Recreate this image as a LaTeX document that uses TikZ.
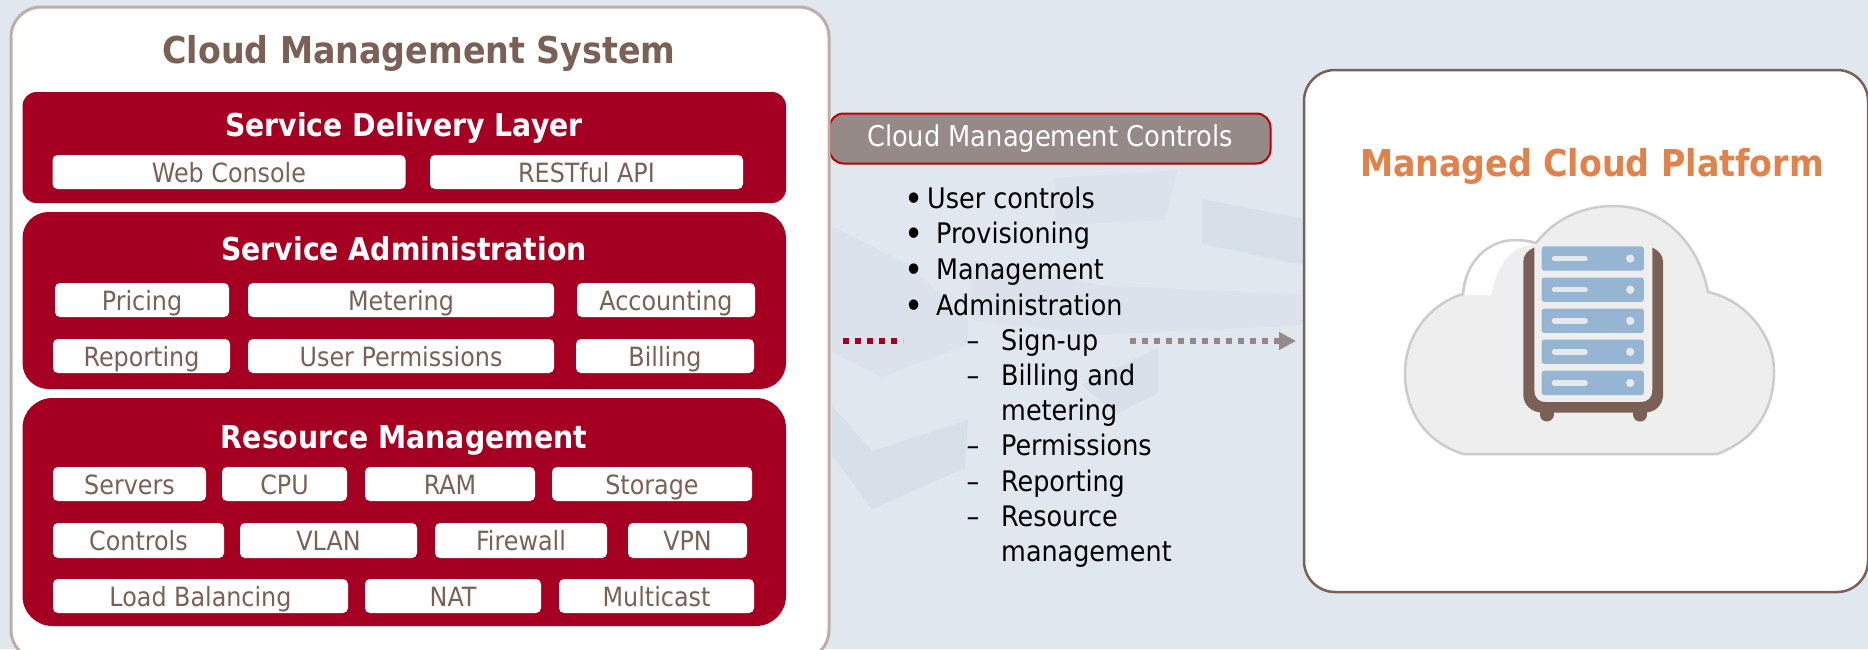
\documentclass[tikz,border=0pt]{standalone}
\usepackage{fontspec}
\setmainfont{DejaVu Sans Condensed}
\usetikzlibrary{arrows.meta}
\definecolor{bgblue}{HTML}{E0E7EF}
\definecolor{wmdark}{HTML}{D7DFE9}
\definecolor{wmlight}{HTML}{DBE2EB}
\definecolor{crimson}{HTML}{A50021}
\definecolor{umber}{HTML}{7A6055}
\definecolor{palebrown}{HTML}{BDAEA7}
\definecolor{greybrown}{HTML}{958A88}
\definecolor{alarmred}{HTML}{C00000}
\definecolor{titleorange}{HTML}{E0824A}
\definecolor{cloudfill}{HTML}{EEEEEE}
\definecolor{cloudline}{HTML}{CCCCCC}
\definecolor{slotblue}{HTML}{95B5D2}
\definecolor{slotlight}{HTML}{E5E8EC}
\newcommand{\fs}[1]{\fontsize{#1}{#1}\selectfont}

\begin{document}
\begin{tikzpicture}
		[x=1pt,y=-1pt,
		layer/.style= {fill=crimson,draw=none},
		item/.style= {fill=white,rounded corners=5pt,inner sep=0pt,text=umber,font=\fs{26.5},text height=27pt,text depth=7pt},
		head/.style= {anchor=base,inner sep=0pt,text=white,font=\fs{31.5}\bfseries},
		title/.style= {anchor=base,inner sep=0pt,font=\fs{37}\bfseries},
		listline/.style= {anchor=base west,inner sep=0pt,text=black,font=\fs{28.3}},
		listmark/.style= {anchor=base,inner sep=0pt,text=black,font=\fs{28.3}}]

		\useasboundingbox (0,0) rectangle (1868,649);
		\fill[bgblue] (0,0) rectangle (1868,649);

		% faint backdrop
		\fill[wmlight] (972,260) -- (1100,285) -- (1305,295) -- (1305,325) -- (1100,335) -- (972,320) -- cycle;
		\fill[wmlight] (1055,178) -- (1178,170) -- (1165,220) -- (1055,225) -- cycle;
		\fill[wmdark] (1082,385) -- (1158,348) -- (1158,393) -- (1115,414) -- cycle;
		\fill[wmdark] (1202,199) -- (1305,219) -- (1305,265) -- (1202,244) -- cycle;
		\fill[wmlight] (832,226) -- (908,265) -- (968,319) -- (968,344) -- (882,377) -- (832,352) -- cycle;
		\fill[wmdark] (832,406) -- (872,451) -- (968,420) -- (965,468) -- (872,509) -- (832,455) -- cycle;

		\node[draw=alarmred,line width=2pt,fill=greybrown,rounded corners=14pt,minimum width=441pt,minimum height=50pt,
			text=white,font=\fs{28.6}] (controls) at (1050,138.5) {Cloud Management Controls};

		% left panel
		\draw[draw=palebrown,line width=3pt,fill=white,rounded corners=30pt] (11,7) rectangle (829,660);
		\node[title,text=umber] (cms) at (419,63) {Cloud Management System};

		\fill[layer,rounded corners=14pt] (22.5,92) rectangle (786,203);
		\node[head] (delivery) at (404,136) {Service Delivery Layer};
		\node[item,minimum width=353pt,minimum height=34pt] (web) at (229,172) {Web Console};
		\node[item,minimum width=313pt,minimum height=34pt] (rest) at (586.5,172) {RESTful API};

		\fill[layer,rounded corners=26pt] (22.5,212) rectangle (786,389);
		\node[head] (admin) at (404,260) {Service Administration};
		\node[item,minimum width=174pt,minimum height=34pt] (pricing) at (142,300) {Pricing};
		\node[item,minimum width=306pt,minimum height=34pt] (metering) at (401,300) {Metering};
		\node[item,minimum width=178pt,minimum height=34pt] (accounting) at (666,300) {Accounting};
		\node[item,minimum width=177pt,minimum height=34pt] (reporting) at (141.5,356) {Reporting};
		\node[item,minimum width=306pt,minimum height=34pt] (permissions) at (401,356) {User Permissions};
		\node[item,minimum width=178pt,minimum height=34pt] (billing) at (665,356) {Billing};

		\fill[layer,rounded corners=30pt] (22.5,398) rectangle (786,626);
		\node[head] (resource) at (404,448) {Resource Management};
		\node[item,minimum width=153pt,minimum height=34pt] (servers) at (129.5,484) {Servers};
		\node[item,minimum width=125pt,minimum height=34pt] (cpu) at (284.5,484) {CPU};
		\node[item,minimum width=170pt,minimum height=34pt] (ram) at (450,484) {RAM};
		\node[item,minimum width=200pt,minimum height=34pt] (storage) at (652,484) {Storage};
		\node[item,minimum width=171pt,minimum height=35pt] (ctrl) at (138.5,540.5) {Controls};
		\node[item,minimum width=177pt,minimum height=35pt] (vlan) at (328.5,540.5) {VLAN};
		\node[item,minimum width=172pt,minimum height=35pt] (firewall) at (521,540.5) {Firewall};
		\node[item,minimum width=119pt,minimum height=35pt] (vpn) at (687.5,540.5) {VPN};
		\node[item,minimum width=295pt,minimum height=34pt] (balancing) at (200.5,596) {Load Balancing};
		\node[item,minimum width=176pt,minimum height=34pt] (nat) at (453,596) {NAT};
		\node[item,minimum width=195pt,minimum height=34pt] (multicast) at (656.5,596) {Multicast};

		% list
		\node[listline] (l1) at (927,208) {User controls};
		\node[listline] (l2) at (936,243) {Provisioning};
		\node[listline] (l3) at (936,279) {Management};
		\node[listline] (l4) at (936,315) {Administration};
		\node[listline] (l5) at (1001,350) {Sign-up};
		\node[listline] (l6) at (1001,385) {Billing and};
		\node[listline] (l7) at (1001,420) {metering};
		\node[listline] (l8) at (1001,455) {Permissions};
		\node[listline] (l9) at (1001,491) {Reporting};
		\node[listline] (l10) at (1001,526) {Resource};
		\node[listline] (l11) at (1001,561) {management};
		\foreach \y/\n in {208/1,243/2,279/3,315/4}
			\node[listmark,font=\fs{36}] (b\n) at (914,\y+3) {•};
		\foreach \y/\n in {350/5,385/6,455/8,491/9,526/10}
			\node[listmark] (d\n) at (973,\y) {–};

		% arrows
		\coordinate (r0) at (843,341);
		\coordinate (r1) at (903,341);
		\coordinate (g0) at (1130,341);
		\coordinate (g1) at (1296,341);
		\draw[crimson,line width=5.5pt,dash pattern=on 6pt off 6pt] (r0) -- (r1);
		\draw[greybrown,line width=5.5pt,dash pattern=on 6pt off 6pt,-{Triangle[length=17pt,width=17pt]}] (g0) -- (g1);

		% right panel
		\draw[draw=umber,line width=2.5pt,fill=white,rounded corners=31pt] (1304,70) rectangle (1868,592);
		\node[title,text=titleorange] (mcp) at (1592,176) {Managed Cloud Platform};

		% cloud
		\fill[cloudfill] (1463,454) .. controls (1420,440) and (1405,405) .. (1405,373)
			.. controls (1405,335) and (1430,304) .. (1463,294)
			.. controls (1465,262) and (1488,240) .. (1515,240)
			.. controls (1522,240) and (1530,241) .. (1536,243)
			.. controls (1550,225) and (1575,206) .. (1614,206)
			.. controls (1660,206) and (1698,240) .. (1708,292)
			.. controls (1745,300) and (1774,335) .. (1774,371)
			.. controls (1774,410) and (1755,440) .. (1717,454) -- cycle;
		\fill[white] (1465,295) -- (1491,295) .. controls (1497,270) and (1505,248) .. (1532,245)
			.. controls (1525,241) and (1520,241) .. (1515,241)
			.. controls (1488,241) and (1466,262) .. (1465,295) -- cycle;
		\draw[cloudline,line width=2.5pt,line join=round] (1463,454) .. controls (1420,440) and (1405,405) .. (1405,373)
			.. controls (1405,335) and (1430,304) .. (1463,294)
			.. controls (1465,262) and (1488,240) .. (1515,240)
			.. controls (1522,240) and (1530,241) .. (1536,243)
			.. controls (1550,225) and (1575,206) .. (1614,206)
			.. controls (1660,206) and (1698,240) .. (1708,292)
			.. controls (1745,300) and (1774,335) .. (1774,371)
			.. controls (1774,410) and (1755,440) .. (1717,454) -- cycle;

		% server
		\draw[umber,line width=14pt,line cap=round] (1546.5,409) -- (1546.5,414.5);
		\draw[umber,line width=14pt,line cap=round] (1640,409) -- (1640,414.5);
		\fill[umber] (1534.4,247.5) .. controls (1527,251) and (1523.3,255) .. (1523.3,262)
			-- (1523.3,395) .. controls (1523.3,405) and (1532,412.5) .. (1542,412.5)
			-- (1645,412.5) .. controls (1655,412.5) and (1663,405) .. (1663,395)
			-- (1663,262) .. controls (1663,255) and (1659,251) .. (1652.3,247.5)
			-- (1652.3,390) .. controls (1652.3,398) and (1648,402) .. (1640,402)
			-- (1546,402) .. controls (1538,402) and (1534.4,398) .. (1534.4,390) -- cycle;
		\foreach \y in {246.4,277.5,308.6,339.6,370.7} {
			\fill[slotblue,rounded corners=2.5pt] (1541.7,\y) rectangle (1643.8,\y+24.3);
			\draw[slotlight,line width=5.5pt,line cap=round] (1554.5,\y+12.2) -- (1585,\y+12.2);
			\fill[slotlight] (1630.2,\y+12.2) circle (4.2pt);
		}

	\end{tikzpicture}
\end{document}
